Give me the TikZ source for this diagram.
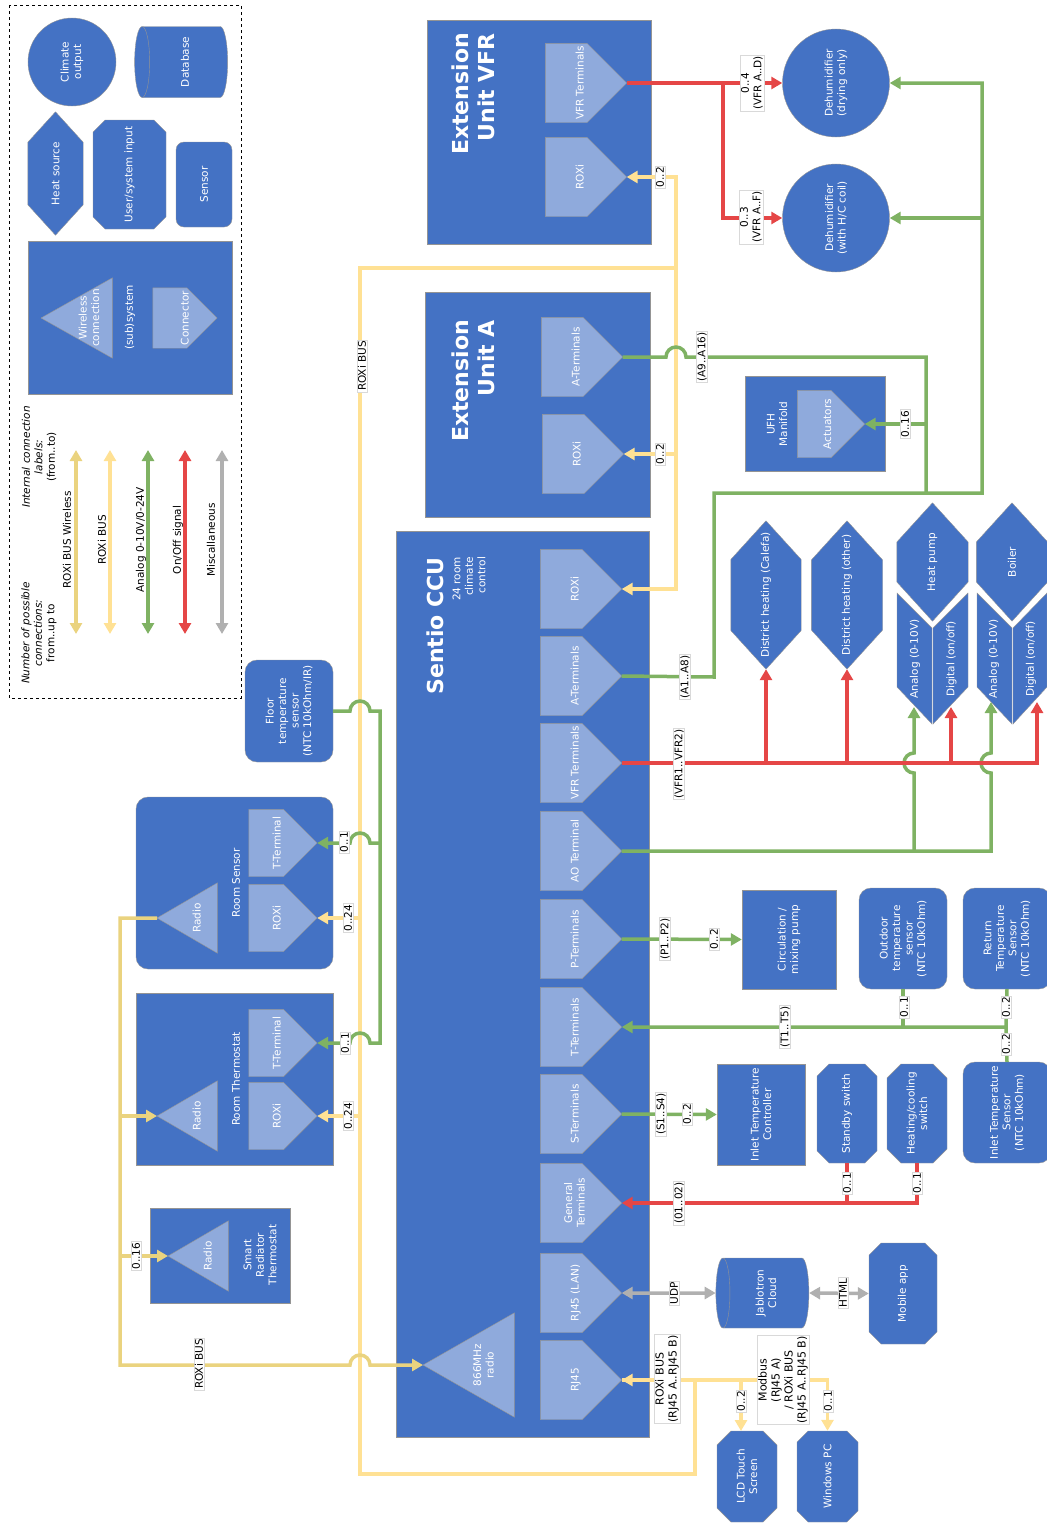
\documentclass[tikz,border=0pt]{standalone}
\usepackage{fontspec}
\setmainfont{DejaVu Sans}
\usetikzlibrary{shapes.geometric,shapes.misc,arrows.meta}
\definecolor{blu}{HTML}{4472C4}
\definecolor{pale}{HTML}{8FAADC}
\definecolor{edge}{HTML}{949494}
\definecolor{wlessc}{HTML}{EAD37F}
\definecolor{busc}{HTML}{FFE194}
\definecolor{anac}{HTML}{7FB263}
\definecolor{onoffc}{HTML}{E54646}
\definecolor{miscc}{HTML}{B0B0B0}
\newdimen\plL \newdimen\plR \newdimen\plB \newdimen\plT \newdimen\plM \newdimen\plS
\makeatletter
\def\plcorners{\southwest \plL=\pgf@x \plB=\pgf@y \northeast \plR=\pgf@x \plT=\pgf@y}
\pgfdeclareshape{plate}{
 \inheritsavedanchors[from=rectangle]
 \inheritanchorborder[from=rectangle]
 \inheritanchor[from=rectangle]{center}
 \inheritanchor[from=rectangle]{north}
 \inheritanchor[from=rectangle]{south}
 \inheritanchor[from=rectangle]{east}
 \inheritanchor[from=rectangle]{west}
 \backgroundpath{
  \plcorners
  \plM=.5\plL \advance\plM by .5\plR
  \plS=.5\plR \advance\plS by -.5\plL \advance\plS by \plB
  \pgfpathmoveto{\pgfqpoint{\plL}{\plT}}
  \pgfpathlineto{\pgfqpoint{\plR}{\plT}}
  \pgfpathlineto{\pgfqpoint{\plR}{\plS}}
  \pgfpathlineto{\pgfqpoint{\plM}{\plB}}
  \pgfpathlineto{\pgfqpoint{\plL}{\plS}}
  \pgfpathclose
 }
}
\pgfdeclareshape{wedge}{
 \inheritsavedanchors[from=rectangle]
 \inheritanchorborder[from=rectangle]
 \inheritanchor[from=rectangle]{center}
 \inheritanchor[from=rectangle]{north}
 \inheritanchor[from=rectangle]{south}
 \inheritanchor[from=rectangle]{east}
 \inheritanchor[from=rectangle]{west}
 \backgroundpath{
  \plcorners
  \plM=.5\plL \advance\plM by .5\plR
  \pgfpathmoveto{\pgfqpoint{\plL}{\plB}}
  \pgfpathlineto{\pgfqpoint{\plR}{\plB}}
  \pgfpathlineto{\pgfqpoint{\plM}{\plT}}
  \pgfpathclose
 }
}
\pgfdeclareshape{hexa}{
 \inheritsavedanchors[from=rectangle]
 \inheritanchorborder[from=rectangle]
 \inheritanchor[from=rectangle]{center}
 \inheritanchor[from=rectangle]{north}
 \inheritanchor[from=rectangle]{south}
 \inheritanchor[from=rectangle]{east}
 \inheritanchor[from=rectangle]{west}
 \backgroundpath{
  \plcorners
  \plM=.5\plB \advance\plM by .5\plT
  \plS=.55\plT \advance\plS by -.55\plB
  \pgfpathmoveto{\pgfqpoint{\plL}{\plM}}
  \advance\plL by \plS \advance\plR by -\plS
  \pgfpathlineto{\pgfqpoint{\plL}{\plT}}
  \pgfpathlineto{\pgfqpoint{\plR}{\plT}}
  \advance\plR by \plS
  \pgfpathlineto{\pgfqpoint{\plR}{\plM}}
  \advance\plR by -\plS
  \pgfpathlineto{\pgfqpoint{\plR}{\plB}}
  \pgfpathlineto{\pgfqpoint{\plL}{\plB}}
  \pgfpathclose
 }
}
\makeatother
\begin{document}
\begin{tikzpicture}[x=1pt,y=-1pt,>={Triangle[length=11pt,width=12pt]},
 every node/.style={font=\fontsize{10.5}{12.5}\selectfont,text=white,rotate=90,align=center,inner sep=0pt},
 sz/.style 2 args={minimum width=#1,minimum height=#2},
 sysbox/.style={rectangle,draw=edge,fill=blu},
 sensbox/.style={rectangle,rounded corners=12pt,draw=edge,fill=blu},
 cham/.style 2 args={chamfered rectangle,chamfered rectangle xsep=#1,chamfered rectangle ysep=#2,draw=edge,fill=blu},
 octbox/.style={cham={7pt}{7pt}},
 hexbox/.style={hexa,draw=edge,fill=blu},
 halfbox/.style={draw=edge,fill=blu},
 climbox/.style={ellipse,draw=edge,fill=blu},
 dbbox/.style={cylinder,shape border rotate=90,aspect=.3,draw=edge,fill=blu},
 conn/.style 2 args={plate,draw=edge,fill=pale,sz={#1}{#2},text height=7pt,text depth=12pt},
 mainconn/.style={conn={79}{81}},
 radio/.style 2 args={wedge,draw=edge,fill=pale,sz={#1}{#2},anchor=north,text height=27pt,text depth=0pt},
 big/.style={font=\fontsize{22}{26}\bfseries\selectfont,align=right},
 lbl/.style={text=black,fill=white,draw=black!15,line width=.5pt,inner sep=1pt},
 txt/.style={text=black},
 wless/.style={wlessc,line width=3.5pt},
 bus/.style={busc,line width=3.5pt},
 ana/.style={anac,line width=3.5pt},
 onoff/.style={onoffc,line width=3.5pt},
 misc/.style={miscc,line width=3.5pt}]
\useasboundingbox (0,0) rectangle (1047,1524);

% legend
\draw[dashed,line width=.6pt] (9,5) rectangle (241,698);
\node[climbox,sz={88}{88}] (lgclim) at (72,62) {Climate\\output};
\node[dbbox,sz={71}{93}] (lgdb) at (185,62) {Database};
\node[hexbox,sz={123}{55}] (lgheat) at (55.5,173.5) {Heat source};
\node[cham={9pt}{7pt},sz={109}{73}] (lguser) at (129.5,174.5) {User/system input};
\node[sensbox,rounded corners=8pt,sz={85}{56}] (lgsens) at (204,184.5) {Sensor};
\node[sysbox,sz={153}{204}] (lgsys) at (130,317.5) {(sub)system};
\node[radio={80}{71},text height=45pt] (lgrad) at (41,318) {Wireless\\connection};
\node[conn={60}{64},text depth=0pt] (lgconn) at (185,318) {Connector};
\node[txt] (lgint) at (39,457) {\itshape Internal connection\\\itshape labels:\\(from..to)};
\node[txt] (lgnum) at (39,633) {\itshape Number of possible\\\itshape connections:\\from..up to};
\foreach \x/\c/\t/\l in {76/wless/ROXi BUS Wireless/67,110/bus/ROXi BUS/102,148/ana/Analog 0-10V\slash 0-24V/141,185/onoff/On\slash Off signal/178,222/misc/Miscallaneous/211}{
 \coordinate (lga\x) at (\x,450);
 \coordinate (lgb\x) at (\x,634);
 \draw[\c,<->] (lga\x) -- (lgb\x);
 \node[txt] (lgt\x) at (\l,540) {\t};
}

% extension units
\node[sysbox,sz={224}{224}] (vfr) at (539,132) {};
\node[big] (vfrt) at (473,94) {Extension\\Unit VFR};
\node[mainconn] (vfrv) at (586,83) {VFR Terminals};
\node[mainconn] (vfrr) at (586,177) {ROXi};
\node[sysbox,sz={225}{225}] (exa) at (538,405) {};
\node[big] (exat) at (473,381) {Extension\\Unit A};
\node[mainconn] (exaa) at (582,357) {A-Terminals};
\node[mainconn] (exar) at (583,454) {ROXi};
\node[climbox,sz={108}{107}] (dehd) at (836,83) {Dehumidifier\\(drying only)};
\node[climbox,sz={108}{107}] (dehc) at (836,218) {Dehumidifier\\(with H/C coil)};
\node[sysbox,sz={95}{140}] (ufh) at (815,424) {};
\node (ufht) at (777,424) {UFH\\Manifold};
\node[conn={67}{67},text depth=7pt] (ufha) at (831,424) {Actuators};

% main unit
\node[sysbox,sz={906}{253}] (ccu) at (523,984) {};
\node[big] (ccut) at (435,626) {Sentio CCU};
\node[align=right] (ccus) at (469,579) {24 room\\climate\\control};
\node[mainconn] (cr) at (581,589) {ROXi};
\node[mainconn] (ca) at (581,676) {A-Terminals};
\node[mainconn] (cv) at (581,763) {VFR Terminals};
\node[mainconn] (cao) at (581,851) {AO Terminal};
\node[mainconn] (cp) at (581,939) {P-Terminals};
\node[mainconn] (ct) at (581,1027) {T-Terminals};
\node[mainconn] (cs) at (581,1114) {S-Terminals};
\node[mainconn,text depth=0pt] (cg) at (581,1203) {General\\Terminals};
\node[mainconn] (clan) at (581,1293) {RJ45 (LAN)};
\node[mainconn] (crj) at (581,1380) {RJ45};
\node[radio={104}{91},text height=50pt] (crad) at (423,1365) {866MHz\\radio};

% heat sources
\node[hexbox,sz={148}{70}] (dhc) at (766,595) {District heating (Calefa)};
\node[hexbox,sz={148}{71}] (dho) at (847,595) {District heating (other)};
\node[hexbox,sz={118}{71}] (hp) at (932.5,562) {Heat pump};
\node[hexbox,sz={118}{71}] (boil) at (1012,562) {Boiler};
\draw[halfbox] (897,593) -- (932,628) -- (932,724) -- (897,687) -- cycle;
\draw[halfbox] (933,628) -- (968,593) -- (968,687) -- (933,724) -- cycle;
\draw[halfbox] (977,593) -- (1012,628) -- (1012,724) -- (977,687) -- cycle;
\draw[halfbox] (1013,628) -- (1047,593) -- (1047,687) -- (1013,724) -- cycle;
\node (hpan) at (915,659) {Analog (0-10V)};
\node (hpdi) at (951.5,659) {Digital (on/off)};
\node (boan) at (994,659) {Analog (0-10V)};
\node (bodi) at (1031,659) {Digital (on/off)};
\coordinate (hpain) at (914,707);
\coordinate (hpdin) at (951,707);
\coordinate (boain) at (991,702);
\coordinate (bodin) at (1037,702);

% peripherals
\node[sysbox,sz={99}{94}] (circ) at (789,939.5) {Circulation /\\mixing pump};
\node[sensbox,sz={101}{88}] (outd) at (903,938.5) {Outdoor\\temperature\\sensor\\(NTC 10kOhm)};
\node[sensbox,sz={101}{88}] (retn) at (1007,938.5) {Return\\Temperature\\Sensor\\(NTC 10kOhm)};
\node[sensbox,sz={101}{88}] (inlt) at (1007,1112.5) {Inlet Temperature\\Sensor\\(NTC 10kOhm)};
\node[sysbox,sz={101}{88}] (inlc) at (761,1114.5) {Inlet Temperature\\Controller};
\node[octbox,sz={99}{60}] (stby) at (847,1113.5) {Standby switch};
\node[octbox,sz={99}{60}] (heat) at (917,1113.5) {Heating/cooling\\switch};
\node[dbbox,sz={70}{93}] (cloud) at (766,1293) {Jablotron\\Cloud};
\node[octbox,sz={101}{68}] (mobi) at (903,1293.5) {Mobile app};
\node[octbox,sz={91}{60}] (lcd) at (747,1476.5) {LCD Touch\\Screen};
\node[octbox,sz={91}{61}] (wpc) at (827.5,1476.5) {Windows PC};
\coordinate (lcdin) at (741,1431);

% room devices
\node[sensbox,sz={102}{88}] (fl) at (289,711) {Floor\\temperature\\sensor\\(NTC 10kOhm/IR)};
\node[sensbox,sz={172}{197}] (rs) at (234.5,883) {};
\node (rst) at (236,883) {Room Sensor};
\node[conn={67}{68}] (rst1) at (283,843) {T-Terminal};
\node[conn={67}{68}] (rsr) at (283,918) {ROXi};
\node[radio={70}{60}] (rsrad) at (157,918) {Radio};
\node[cham={15pt}{15pt},sz={172}{197}] (rth) at (234.5,1079) {};
\node (rtht) at (236,1079) {Room Thermostat};
\node[conn={67}{68}] (rtht1) at (283,1043) {T-Terminal};
\node[conn={67}{68}] (rthr) at (283,1116) {ROXi};
\node[radio={70}{60}] (rthrad) at (157,1116) {Radio};
\node[sysbox,sz={95}{140}] (srt) at (220,1255.5) {};
\node (srtt) at (260,1255) {Smart\\Radiator\\Thermostat};
\node[radio={70}{60}] (srtrad) at (168,1256) {Radio};

% wires
\coordinate (bt1) at (676,177);
\coordinate (bt2) at (676,589);
\coordinate (bt3) at (676,268);
\coordinate (bt4) at (360,268);
\coordinate (bt5) at (360,1474);
\coordinate (bt6) at (695,1474);
\draw[bus,<->] (vfrr.south) -- (bt1) -- (bt2) -- (cr.south);
\draw[bus,<-] (exar.south) -- (exar.south -| bt1);
\draw[bus,<-] (crj.south) -- (crj.south -| bt6) -- (bt6) -- (bt5) -- (bt4) -- (bt3);
\draw[bus,->] (crj.south) -- (crj.south -| wpc.east) -- (wpc.east);
\draw[bus,->] (crj.south -| lcdin) -- (lcdin);
\draw[bus,<-] (rsr.south) -- (rsr.south -| bt4);
\draw[bus,<-] (rthr.south) -- (rthr.south -| bt4);

\coordinate (wl1) at (120,918);
\coordinate (wl2) at (120,1365);
\draw[wless,->] (rsrad.north) -- (wl1) -- (wl2) -- (350,1365) arc[start angle=180,end angle=0,radius=10pt] -- (crad.north);
\draw[wless,->] (rthrad.north -| wl1) -- (rthrad.north);
\draw[wless,->] (srtrad.north -| wl1) -- (srtrad.north);

\coordinate (ga1) at (926,357);
\coordinate (ga2) at (926,493);
\coordinate (ga3) at (714,493);
\coordinate (ga4) at (714,677);
\coordinate (ga5) at (982,493);
\coordinate (ga6) at (982,83);
\draw[ana] (exaa.south) -- (666,357) arc[start angle=180,end angle=0,radius=10pt] -- (ga1) -- (ga2);
\draw[ana,<-] (ufha.south) -- (ufha.south -| ga1);
\draw[ana,->] (ca.south) -- (ga4) -- (ga3) -- (ga5) -- (ga6) -- (dehd.south);
\draw[ana,<-] (dehc.south) -- (dehc.south -| ga6);
\draw[ana,->] (cao.south) -- (991,851) -- (991,773) arc[start angle=-90,end angle=-270,radius=10pt] -- (boain);
\draw[ana,->] (914,851) -- (914,773) arc[start angle=-90,end angle=-270,radius=10pt] -- (hpain);
\draw[ana,->] (cp.south) -- (circ.north);
\draw[ana,->] (cs.south) -- (inlc.north);
\draw[ana,<-] (ct.south) -- (1006,1027) -- (retn.west);
\draw[ana] (1006,1027) -- (inlt.east);
\draw[ana] (outd.west) -- (outd.west |- ct.south);
\coordinate (gr1) at (380,711);
\coordinate (gr2) at (380,1043);
\draw[ana,->] (fl.south) -- (350,711) arc[start angle=180,end angle=0,radius=10pt] -- (gr1) -- (gr2) -- (370,1043) arc[start angle=0,end angle=180,radius=10pt] -- (rtht1.south);
\draw[ana,->] (380,843) -- (370,843) arc[start angle=0,end angle=180,radius=10pt] -- (rst1.south);

\coordinate (rd1) at (723,83);
\coordinate (rd2) at (723,218);
\draw[onoff,->] (vfrv.south) -- (dehd.north);
\draw[onoff,->] (rd1) -- (rd2) -- (dehc.north);
\draw[onoff,->] (cv.south) -- (bodin |- cv.south) -- (bodin);
\draw[onoff,->] (dhc.west |- cv.south) -- (dhc.west);
\draw[onoff,->] (dho.west |- cv.south) -- (dho.west);
\draw[onoff,->] (hpdin |- cv.south) -- (hpdin);
\draw[onoff,<-] (cg.south) -- (heat.west |- cg.south) -- (heat.west);
\draw[onoff] (stby.west) -- (stby.west |- cg.south);

\draw[misc,<->] (clan.south) -- (cloud.north);
\draw[misc,<->] (cloud.south) -- (mobi.north);

% labels
\node[lbl] (l1) at (752,83) {0..4\\(VFR A..D)};
\node[lbl] (l2) at (751,217) {0..3\\(VFR A..F)};
\node[lbl] (l3) at (660,177) {0..2};
\node[lbl] (l4) at (660,454) {0..2};
\node[lbl] (l5) at (702,357) {(A9..A16)};
\node[lbl] (l6) at (905,424) {0..16};
\node[lbl] (l7) at (362,366) {ROXi BUS};
\node[lbl] (l8) at (685,677) {(A1..A8)};
\node[lbl] (l9) at (679,764) {(VFR1..VFR2)};
\node[lbl] (l10) at (665,939) {(P1..P2)};
\node[lbl] (l11) at (714,939) {0..2};
\node[lbl] (l12) at (785,1027) {(T1..T5)};
\node[lbl] (l13) at (904,1007) {0..1};
\node[lbl] (l14) at (1006,1007) {0..2};
\node[lbl] (l15) at (1006,1044) {0..2};
\node[lbl] (l16) at (661,1114) {(S1..S4)};
\node[lbl] (l17) at (687,1114) {0..2};
\node[lbl] (l18) at (679,1203) {(01..02)};
\node[lbl] (l19) at (847,1183) {0..1};
\node[lbl] (l20) at (917,1183) {0..1};
\node[lbl] (l21) at (674,1293) {UDP};
\node[lbl] (l22) at (843,1293) {HTML};
\node[lbl,font=\fontsize{11}{13}\selectfont] (l23) at (667,1379) {ROXi BUS\\(RJ45 A..RJ45 B)};
\node[lbl,font=\fontsize{11}{13}\selectfont] (l24) at (783,1380) {Modbus\\(RJ45 A)\\/ ROXi BUS\\(RJ45 A..RJ45 B)};
\node[lbl] (l25) at (741,1401) {0..2};
\node[lbl] (l26) at (828,1401) {0..1};
\node[lbl] (l27) at (344,842) {0..1};
\node[lbl] (l28) at (345,1043) {0..1};
\node[lbl] (l29) at (348,918) {0..24};
\node[lbl] (l30) at (348,1116) {0..24};
\node[lbl] (l31) at (136,1256) {0..16};
\node[lbl] (l32) at (199,1364) {ROXi BUS};
\end{tikzpicture}
\end{document}
